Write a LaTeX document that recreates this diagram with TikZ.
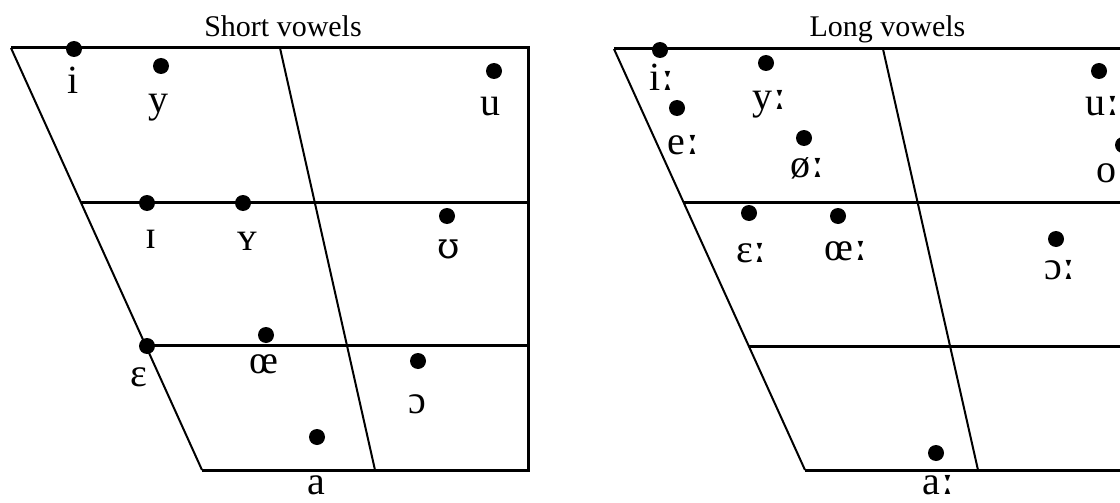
\documentclass[tikz,border=0pt]{standalone}
\usepackage{fontspec}
\setmainfont{Liberation Serif}
\newfontfamily\ipafont{DejaVu Serif}
\newcommand\lng{{\ipafont\fontsize{44}{44}\selectfont ː}}
\usetikzlibrary{calc}
\tikzset{vdot/.style={circle,fill,inner sep=0pt,minimum size=16pt},
  vlab/.style={anchor=base,inner sep=0pt,font=\fontsize{40}{40}\selectfont},
  vtitle/.style={anchor=base,inner sep=0pt,font=\fontsize{30}{30}\selectfont},
  rim/.style={line width=3pt},
  slant/.style={line width=2pt}}

\begin{document}
\begin{tikzpicture}[x=1pt,y=-1pt]
\clip(0,0)rectangle(1120,503);
% short vowels
\begin{scope}
\coordinate(tl) at(11,48);\coordinate(tm) at(280,48);\coordinate(tr) at(528,48);
\coordinate(bl) at(202,470);\coordinate(bm) at(375,470);\coordinate(br) at(528,470);
\draw[rim](tl)--(tr)--(br)--(bl);
\draw[slant](tl)--(bl);\draw[slant](tm)--(bm);
\draw[rim]($(tl)!.365!(bl)$)--($(tr)!.365!(br)$);
\draw[rim]($(tl)!.706!(bl)$)--($(tr)!.706!(br)$);
\node[vtitle](short) at(283,37){Short vowels};
\node[vdot](i) at(74,49){};\node[vlab](li) at(73,94){i};
\node[vdot](y) at(161,66){};\node[vlab](ly) at(158,113){y};
\node[vdot](u) at(494,71){};\node[vlab](lu) at(490,115){u};
\node[vdot](I) at(147,203){};\node[vlab](lI) at(151,248){ɪ};
\node[vdot](Y) at(243,203){};\node[vlab](lY) at(247,250){ʏ};
\node[vdot](U) at(447,216){};\node[vlab](lU) at(449,258){\ipafont\fontsize{36}{36}\selectfont ʊ};
\node[vdot](E) at(147,346){};\node[vlab](lE) at(139,386){ɛ};
\node[vdot](oe) at(266,335){};\node[vlab](loe) at(264,373){œ};
\node[vdot](O) at(418,361){};\node[vlab](lO) at(417,413){ɔ};
\node[vdot](a) at(317,437){};\node[vlab](la) at(316,494){a};
\end{scope}
% long vowels
\begin{scope}[xshift=603pt]
\coordinate(tl) at(11,49);\coordinate(tm) at(280,49);\coordinate(tr) at(528,49);
\coordinate(bl) at(202,470);\coordinate(bm) at(375,470);\coordinate(br) at(528,470);
\draw[rim](tl)--(tr)--(br)--(bl);
\draw[slant](tl)--(bl);\draw[slant](tm)--(bm);
\draw[rim]($(tl)!.364!(bl)$)--($(tr)!.364!(br)$);
\draw[rim]($(tl)!.707!(bl)$)--($(tr)!.707!(br)$);
\node[vtitle](long) at(284.5,37){Long vowels};
\node[vdot](ii) at(57,50){};\node[vlab](lii) at(59.5,91){i\lng};
\node[vdot](yy) at(163,63){};\node[vlab](lyy) at(167,110){y\lng};
\node[vdot](ee) at(74,108){};\node[vlab](lee) at(81,154){e\lng};
\node[vdot](oo) at(201,138){};\node[vlab](loo) at(205,177){ø\lng};
\node[vdot](uu) at(496,71){};\node[vlab](luu) at(500,115){u\lng};
\node[vdot](o) at(520,145){};\node[vlab](lo) at(511,182){o\lng};
\node[vdot](EE) at(146,213){};\node[vlab](lEE) at(149,262){ɛ\lng};
\node[vdot](OE) at(235,216){};\node[vlab](lOE) at(243.5,260){œ\lng};
\node[vdot](OO) at(453,239){};\node[vlab](lOO) at(457.5,279){ɔ\lng};
\node[vdot](aa) at(333,453){};\node[vlab](laa) at(336,494){a\lng};
\end{scope}
\end{tikzpicture}
\end{document}
